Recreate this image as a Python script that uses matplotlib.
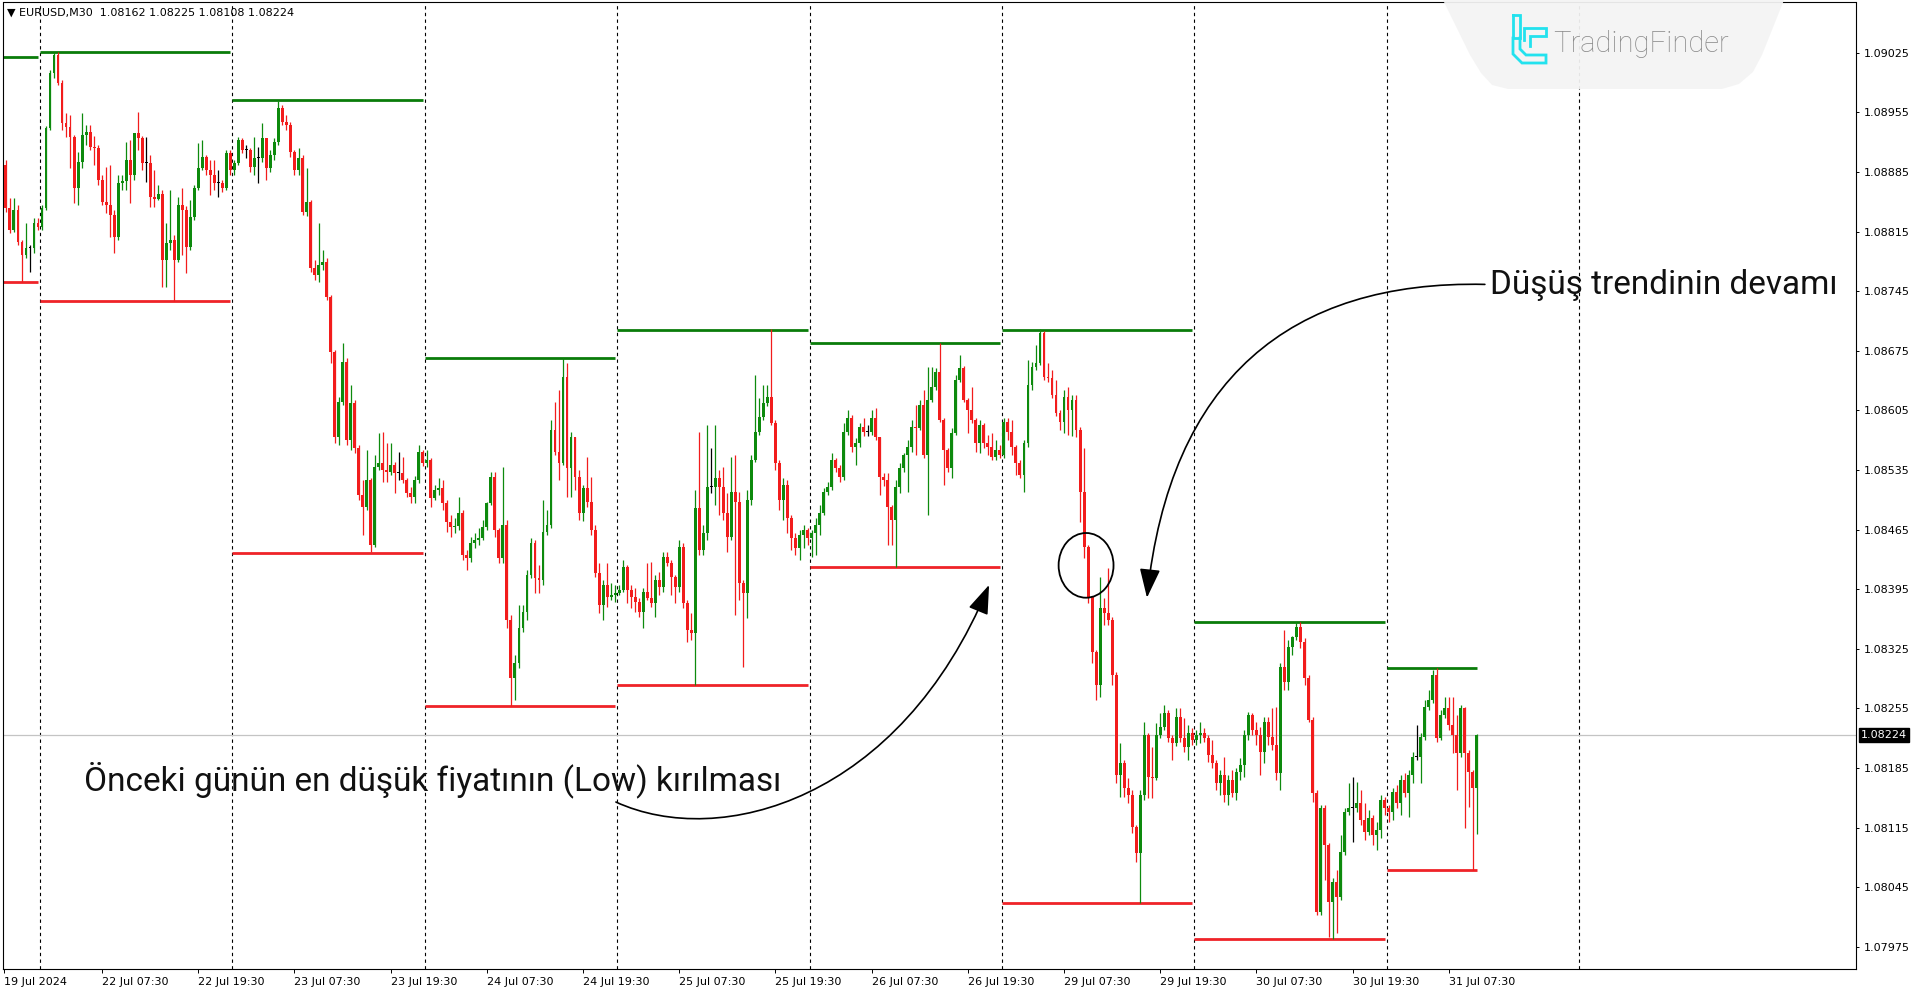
import numpy as np
import matplotlib
matplotlib.use("Agg")
import matplotlib.pyplot as plt
from matplotlib import font_manager as fm
from matplotlib.patches import Ellipse, FancyArrowPatch, Polygon
from matplotlib.path import Path

plt.rcParams['font.family'] = 'DejaVu Sans'

# EURUSD M30 candles, prices in points: price = 1 + value / 1e5
first_open = 8893
day_len = [9, 48, 48, 48, 48, 48, 48, 48, 23]   # 19 Jul (tail), 22..30 Jul, 31 Jul (first part)

close = [
    # 19 Jul
    8843, 8817, 8840, 8803, 8788, 8796, 8796, 8825, 8820,
    # 22 Jul
    8843, 8937, 9001, 9022, 8990, 8942, 8938, 8926, 8866, 8897, 8928, 8932, 8914, 8913, 8876, 8850,
    8846, 8834, 8809, 8872, 8874, 8899, 8881, 8931, 8925, 8896, 8896, 8856, 8853, 8859, 8782, 8802,
    8805, 8782, 8846, 8840, 8797, 8832, 8866, 8890, 8903, 8887, 8881, 8872, 8872, 8866, 8907, 8887,
    # 23 Jul
    8896, 8923, 8911, 8911, 8891, 8901, 8901, 8925, 8890, 8905, 8920, 8960, 8944, 8940, 8908, 8887,
    8901, 8838, 8850, 8772, 8764, 8776, 8779, 8738, 8674, 8574, 8615, 8662, 8570, 8614, 8561, 8506,
    8492, 8523, 8447, 8538, 8543, 8535, 8533, 8541, 8531, 8531, 8523, 8508, 8503, 8523, 8556, 8543,
    # 24 Jul
    8547, 8502, 8511, 8514, 8496, 8474, 8468, 8469, 8484, 8435, 8432, 8449, 8453, 8455, 8468, 8496,
    8527, 8465, 8432, 8470, 8359, 8291, 8308, 8349, 8368, 8412, 8449, 8408, 8406, 8462, 8470, 8582,
    8556, 8543, 8644, 8537, 8574, 8527, 8484, 8514, 8497, 8465, 8414, 8376, 8400, 8386, 8388, 8391,
    # 25 Jul
    8394, 8421, 8394, 8386, 8380, 8368, 8392, 8385, 8379, 8406, 8398, 8433, 8426, 8409, 8398, 8445,
    8379, 8347, 8344, 8490, 8441, 8461, 8515, 8515, 8526, 8515, 8484, 8456, 8509, 8497, 8402, 8391,
    8500, 8547, 8580, 8597, 8614, 8621, 8590, 8543, 8500, 8517, 8479, 8455, 8443, 8459, 8465, 8455,
    # 26 Jul
    8461, 8470, 8484, 8509, 8515, 8547, 8537, 8527, 8580, 8596, 8562, 8567, 8585, 8580, 8580, 8596,
    8574, 8527, 8523, 8492, 8476, 8515, 8537, 8553, 8562, 8585, 8584, 8611, 8553, 8617, 8632, 8650,
    8594, 8558, 8537, 8578, 8641, 8655, 8617, 8605, 8594, 8567, 8588, 8567, 8562, 8550, 8558, 8553,
    # 29 Jul
    8591, 8580, 8562, 8543, 8529, 8567, 8635, 8656, 8661, 8696, 8644, 8643, 8623, 8602, 8591, 8621,
    8605, 8617, 8582, 8509, 8445, 8386, 8321, 8282, 8373, 8367, 8359, 8294, 8177, 8191, 8162, 8153,
    8116, 8085, 8153, 8224, 8174, 8173, 8224, 8233, 8250, 8220, 8214, 8245, 8220, 8210, 8226, 8218,
    # 30 Jul
    8224, 8226, 8220, 8200, 8191, 8167, 8177, 8153, 8171, 8156, 8180, 8188, 8224, 8247, 8230, 8224,
    8204, 8239, 8221, 8212, 8179, 8304, 8286, 8327, 8339, 8351, 8333, 8291, 8241, 8156, 8016, 8138,
    8095, 8028, 8051, 8033, 8086, 8133, 8138, 8138, 8144, 8124, 8110, 8126, 8106, 8112, 8147, 8138,
    # 31 Jul
    8133, 8157, 8144, 8171, 8156, 8177, 8198, 8198, 8221, 8257, 8265, 8294, 8220, 8247, 8255, 8235,
    8224, 8203, 8255, 8203, 8180, 8162, 8224,
]

high = [
    # 19 Jul
    8899, 8854, 8854, 8846, 8805, 8825, 8799, 8831, 8831,
    # 22 Jul
    8846, 8939, 9005, 9026, 9026, 8993, 8954, 8952, 8928, 8908, 8954, 8940, 8940, 8927, 8917, 8881,
    8891, 8893, 8840, 8881, 8881, 8920, 8923, 8931, 8955, 8927, 8926, 8905, 8887, 8870, 8864, 8825,
    8864, 8811, 8856, 8866, 8845, 8852, 8870, 8919, 8923, 8905, 8899, 8899, 8887, 8876, 8911, 8911,
    # 23 Jul
    8899, 8926, 8925, 8917, 8913, 8926, 8914, 8942, 8925, 8911, 8925, 8968, 8964, 8952, 8944, 8911,
    8913, 8905, 8890, 8852, 8782, 8825, 8793, 8784, 8741, 8676, 8621, 8684, 8667, 8635, 8617, 8564,
    8523, 8558, 8526, 8553, 8578, 8580, 8567, 8567, 8544, 8556, 8550, 8526, 8515, 8528, 8564, 8558,
    # 24 Jul
    8558, 8549, 8517, 8526, 8523, 8500, 8482, 8479, 8503, 8488, 8441, 8456, 8461, 8467, 8476, 8497,
    8533, 8533, 8467, 8538, 8476, 8365, 8318, 8376, 8376, 8418, 8455, 8453, 8423, 8500, 8488, 8594,
    8615, 8629, 8667, 8661, 8580, 8574, 8535, 8517, 8550, 8527, 8470, 8426, 8406, 8426, 8402, 8400,
    # 25 Jul
    8400, 8429, 8423, 8400, 8396, 8385, 8396, 8426, 8427, 8412, 8415, 8439, 8439, 8429, 8412, 8453,
    8449, 8382, 8367, 8511, 8580, 8470, 8588, 8561, 8588, 8535, 8538, 8508, 8550, 8553, 8509, 8406,
    8511, 8553, 8647, 8620, 8635, 8635, 8701, 8594, 8547, 8526, 8523, 8482, 8461, 8465, 8470, 8467,
    # 26 Jul
    8465, 8479, 8494, 8514, 8521, 8555, 8549, 8541, 8590, 8605, 8600, 8573, 8590, 8596, 8588, 8605,
    8608, 8574, 8531, 8531, 8494, 8523, 8543, 8555, 8570, 8594, 8611, 8617, 8629, 8656, 8656, 8655,
    8684, 8596, 8561, 8584, 8647, 8670, 8657, 8620, 8632, 8596, 8594, 8590, 8576, 8578, 8570, 8564,
    # 29 Jul
    8596, 8596, 8594, 8564, 8547, 8570, 8664, 8662, 8682, 8701, 8698, 8661, 8652, 8641, 8605, 8629,
    8632, 8623, 8623, 8585, 8561, 8447, 8386, 8324, 8409, 8385, 8420, 8362, 8298, 8214, 8194, 8173,
    8159, 8118, 8159, 8239, 8226, 8210, 8238, 8250, 8259, 8253, 8224, 8255, 8255, 8244, 8235, 8232,
    # 30 Jul
    8230, 8239, 8232, 8224, 8218, 8194, 8183, 8198, 8177, 8183, 8185, 8197, 8230, 8251, 8250, 8239,
    8233, 8245, 8245, 8255, 8257, 8308, 8347, 8335, 8340, 8356, 8356, 8338, 8294, 8245, 8159, 8142,
    8142, 8097, 8056, 8065, 8106, 8138, 8167, 8174, 8169, 8159, 8144, 8136, 8130, 8122, 8153, 8151,
    # 31 Jul
    8142, 8161, 8165, 8177, 8179, 8183, 8204, 8235, 8226, 8265, 8277, 8300, 8302, 8253, 8268, 8268,
    8268, 8247, 8259, 8257, 8206, 8183, 8225,
]

low = [
    # 19 Jul
    8838, 8813, 8815, 8799, 8756, 8784, 8768, 8790, 8817,
    # 22 Jul
    8817, 8840, 8934, 8995, 8987, 8934, 8926, 8890, 8849, 8846, 8890, 8917, 8911, 8893, 8870, 8846,
    8837, 8809, 8790, 8805, 8864, 8864, 8849, 8876, 8911, 8887, 8873, 8844, 8844, 8852, 8750, 8750,
    8793, 8733, 8779, 8787, 8766, 8793, 8829, 8864, 8887, 8881, 8858, 8864, 8856, 8861, 8864, 8881,
    # 23 Jul
    8881, 8893, 8907, 8901, 8885, 8881, 8872, 8897, 8876, 8885, 8899, 8917, 8940, 8934, 8903, 8881,
    8881, 8834, 8833, 8768, 8758, 8756, 8770, 8735, 8661, 8567, 8564, 8611, 8564, 8558, 8555, 8500,
    8459, 8488, 8439, 8445, 8535, 8521, 8521, 8529, 8508, 8523, 8520, 8503, 8496, 8496, 8520, 8540,
    # 24 Jul
    8538, 8492, 8500, 8506, 8488, 8462, 8456, 8461, 8465, 8429, 8418, 8427, 8443, 8447, 8453, 8465,
    8494, 8456, 8426, 8426, 8349, 8258, 8265, 8302, 8345, 8359, 8408, 8391, 8391, 8400, 8459, 8467,
    8553, 8523, 8541, 8503, 8503, 8511, 8476, 8475, 8492, 8459, 8409, 8367, 8359, 8374, 8382, 8380,
    # 25 Jul
    8388, 8392, 8379, 8373, 8368, 8362, 8349, 8382, 8374, 8362, 8388, 8392, 8422, 8388, 8379, 8392,
    8373, 8333, 8335, 8282, 8435, 8435, 8453, 8508, 8494, 8482, 8476, 8439, 8453, 8365, 8382, 8304,
    8361, 8494, 8544, 8576, 8594, 8610, 8588, 8535, 8488, 8476, 8461, 8441, 8435, 8429, 8443, 8447,
    # 26 Jul
    8433, 8435, 8459, 8482, 8506, 8511, 8533, 8521, 8523, 8576, 8556, 8541, 8562, 8575, 8575, 8576,
    8570, 8506, 8516, 8447, 8447, 8421, 8508, 8533, 8509, 8556, 8553, 8582, 8549, 8482, 8615, 8629,
    8591, 8517, 8533, 8526, 8576, 8638, 8615, 8578, 8590, 8556, 8555, 8561, 8553, 8547, 8547, 8549,
    # 29 Jul
    8549, 8570, 8553, 8529, 8526, 8509, 8562, 8629, 8652, 8658, 8641, 8638, 8620, 8598, 8582, 8578,
    8576, 8575, 8574, 8474, 8432, 8379, 8308, 8265, 8268, 8353, 8353, 8282, 8167, 8151, 8151, 8144,
    8109, 8075, 8026, 8147, 8150, 8150, 8171, 8220, 8230, 8215, 8194, 8211, 8215, 8204, 8194, 8212,
    # 30 Jul
    8212, 8214, 8215, 8192, 8185, 8159, 8153, 8145, 8142, 8151, 8147, 8171, 8174, 8218, 8224, 8212,
    8177, 8191, 8212, 8206, 8171, 8159, 8277, 8277, 8318, 8335, 8326, 8282, 8239, 8145, 8012, 8012,
    8053, 7986, 7984, 7991, 8030, 8083, 8130, 8098, 8133, 8118, 8100, 8106, 8095, 8089, 8103, 8130,
    # 31 Jul
    8122, 8124, 8138, 8130, 8151, 8127, 8167, 8194, 8167, 8218, 8253, 8261, 8215, 8218, 8244, 8230,
    8203, 8159, 8198, 8115, 8139, 8065, 8108,
]

# daily high / low levels drawn by the indicator
day_high = [9020, 9026, 8969, 8667, 8700, 8684, 8700, 8357, 8302]
day_low = [8756, 8733, 8438, 8258, 8282, 8421, 8026, 7984, 8065]

price_ticks = [1.09025, 1.08955, 1.08885, 1.08815, 1.08745, 1.08675, 1.08605, 1.08535,
               1.08465, 1.08395, 1.08325, 1.08255, 1.08185, 1.08115, 1.08045, 1.07975]
time_labels = ['19 Jul 2024', '22 Jul 07:30', '22 Jul 19:30', '23 Jul 07:30', '23 Jul 19:30',
               '24 Jul 07:30', '24 Jul 19:30', '25 Jul 07:30', '25 Jul 19:30', '26 Jul 07:30',
               '26 Jul 19:30', '29 Jul 07:30', '29 Jul 19:30', '30 Jul 07:30', '30 Jul 19:30',
               '31 Jul 07:30']

note_low = 'Önceki günün en düşük fiyatının (Low) kırılması'
note_trend = 'Düşüş trendinin devamı'

UP, DN = '#0d8a0d', '#f21c1c'
LINE_UP, LINE_DN = '#0a7c0a', '#ef2328'


def has_font(name):
    try:
        fm.findfont(fm.FontProperties(family=name), fallback_to_default=False)
        return True
    except Exception:
        return False


if has_font('Liberation Sans Narrow'):
    note_font, note_size = 'Liberation Sans Narrow', 26
else:
    note_font, note_size = 'Roboto', 24

c = 1 + np.array(close) / 1e5
h = 1 + np.array(high) / 1e5
l = 1 + np.array(low) / 1e5
o = np.concatenate([[1 + first_open / 1e5], c[:-1]])
x = np.arange(len(c)) - day_len[0]

fig = plt.figure(figsize=(19.2, 9.97), dpi=100)
ax = fig.add_axes([3 / 1920, 28 / 997, 1853 / 1920, 966.5 / 997])
xmin, xmax = -9.73, 452.6
ax.set_xlim(xmin, xmax)
ax.set_ylim(1.079489, 1.090841)

# day separators (22 Jul .. 1 Aug)
for d in range(9):
    ax.axvline(48 * d - 0.5, color='black', lw=0.8, ls=(0, (3, 3)), zorder=1)

ax.axhline(c[-1], color='#c4c4c4', lw=0.9, zorder=1)

# daily high / low lines
starts = np.cumsum([0] + day_len[:-1]) - day_len[0]
for d in range(len(day_len)):
    x0 = starts[d] - 0.5 if d else xmin
    x1 = starts[d] + day_len[d] - 1
    ax.hlines(1 + day_high[d] / 1e5, x0, x1, color=LINE_UP, lw=2.0, zorder=2)
    ax.hlines(1 + day_low[d] / 1e5, x0, x1, color=LINE_DN, lw=2.0, zorder=2)

cols = [UP if cc > oo else (DN if cc < oo else 'black') for oo, cc in zip(o, c)]
ax.vlines(x, l, h, colors=cols, lw=0.9, zorder=3)
body = np.maximum(np.abs(c - o), 0.000011)
ax.bar(x, body, bottom=np.minimum(o, c), width=0.72, color=cols, lw=0, zorder=4)

# axes styling
for s in ax.spines.values():
    s.set_linewidth(0.8)
    s.set_color('black')
ax.yaxis.tick_right()
ax.set_yticks(price_ticks)
ax.set_yticklabels([f'{p:.5f}' for p in price_ticks])
ax.tick_params(axis='y', length=2.5, width=0.7, pad=3, labelsize=8)
time_ticks = [-9.6] + [48 * d + hh for d in range(8) for hh in (15, 39)][:len(time_labels) - 1]
ax.set_xticks(time_ticks)
ax.set_xticklabels(time_labels, ha='left')
ax.tick_params(axis='x', length=3, width=0.7, pad=3, labelsize=8)

ax.annotate(f'{c[-1]:.5f}', xy=(1, c[-1]), xycoords=('axes fraction', 'data'),
            xytext=(3.5, 0), textcoords='offset points', ha='left', va='center',
            fontsize=8, color='white', annotation_clip=False,
            bbox=dict(boxstyle='square,pad=0.2', fc='black', ec='black'))

fig.text(7 / 1920, 1 - 13 / 997,
         f'▼ EURUSD,M30  {o[-1]:.5f} {h[-1]:.5f} {l[-1]:.5f} {c[-1]:.5f}',
         fontsize=8, ha='left', va='center')

# annotations
ax.text(10.5, 1.08159, note_low, family=note_font, fontsize=note_size, va='baseline',
        ha='left', color='#111111', zorder=7)
ax.text(361.3, 1.08742, note_trend, family=note_font, fontsize=note_size, va='baseline',
        ha='left', color='#111111', zorder=7)

codes = [Path.MOVETO, Path.CURVE4, Path.CURVE4, Path.CURVE4]
arrow_low = Path([(143.2, 1.08145), (169.2, 1.08089), (214.1, 1.08147), (236.3, 1.08400)], codes)
arrow_trend = Path([(360.0, 1.08753), (311.4, 1.08758), (281.4, 1.08641), (275.7, 1.08385)], codes)
for p in (arrow_low, arrow_trend):
    ax.add_patch(FancyArrowPatch(path=p, arrowstyle='-|>,head_length=0.9,head_width=0.32',
                                 mutation_scale=20, lw=1.2, color='black', zorder=7))

ax.add_patch(Ellipse((260.5, 1.08423), width=13.7, height=0.00076, fill=False,
                     ec='black', lw=1.3, zorder=7))


# watermark logo (figure pixel coordinates)
def fp(px, py):
    return (px / 1920, 1 - py / 997)


logo = [(1443, 0), (1784, 0), (1762, 55), (1753, 72), (1739, 84), (1722, 89),
        (1508, 89), (1492, 85), (1481, 73), (1470, 55)]
fig.add_artist(Polygon([fp(*p) for p in logo], closed=True, transform=fig.transFigure,
                       fc='#f4f4f4', ec='none', alpha=0.94, zorder=10))
icon = [
    [(1513, 15), (1520, 15), (1520, 38), (1513, 38), (1513, 15)],
    [(1513, 38), (1513, 54), (1522, 63), (1546, 63), (1546, 55), (1526, 55), (1520, 49), (1520, 38)],
    [(1524, 40), (1524, 28), (1546, 28), (1546, 36), (1530, 36), (1530, 46)],
]
for seg in icon:
    xs, ys = zip(*[fp(*p) for p in seg])
    fig.add_artist(plt.Line2D(xs, ys, transform=fig.transFigure, color='#22e2ee',
                              lw=2.0, zorder=11, solid_joinstyle='miter'))
fig.text(1553 / 1920, 1 - 52 / 997, 'TradingFinder', fontsize=21, color='#8a8a8a',
         family='Roboto', fontweight='light', ha='left', va='baseline', zorder=11)

fig.savefig('out.png', dpi=100, facecolor='white')
